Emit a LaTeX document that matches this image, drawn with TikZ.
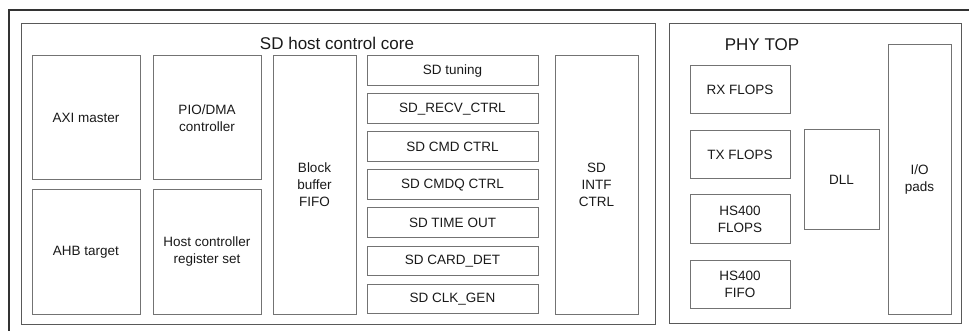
\documentclass[tikz,border=0pt]{standalone}
\usepackage{fontspec}
\setmainfont{Liberation Sans}
\begin{document}
\begin{tikzpicture}[x=1pt,y=-1pt,
  blk/.style={draw=black!55, line width=1pt, inner sep=0pt, align=center,
    font=\fontsize{13.5}{17}\selectfont, text=black!90},
  grp/.style={draw=black!65, line width=1pt, inner sep=0pt},
  ttl/.style={inner sep=0pt, font=\fontsize{17}{20}\selectfont, text=black!90},
  frame/.style={draw=black!80, line width=1.3pt}]
\useasboundingbox (0,0) rectangle (969,331);
% outer frame (cropped)
\coordinate (fr1) at (969,10);
\coordinate (fr2) at (9,10);
\coordinate (fr3) at (9,331);
\draw[frame] (fr1) -- (fr2) -- (fr3);
% SD host control core
\node[grp, minimum width=634, minimum height=300] (core) at (338,174) {};
\node[ttl] (coret) at (337,43) {SD host control core};
\node[blk, minimum width=108, minimum height=124] (axi) at (86,118) {AXI master};
\node[blk, minimum width=108, minimum height=124] (ahb) at (86,252) {AHB target};
\node[blk, minimum width=108, minimum height=124] (pio) at (207,118) {PIO/DMA\\controller};
\node[blk, minimum width=108, minimum height=124] (hcr) at (207,252) {Host controller\\register set};
\node[blk, minimum width=83, minimum height=258] (bbf) at (314.5,185) {Block\\buffer\\FIFO};
\node[blk, minimum width=171, minimum height=29.5] (tun) at (452.5,70.75) {SD tuning};
\node[blk, minimum width=171, minimum height=29.5] (recv) at (452.5,108.75) {SD\_RECV\_CTRL};
\node[blk, minimum width=171, minimum height=29.5] (cmd) at (452.5,146.75) {SD CMD CTRL};
\node[blk, minimum width=171, minimum height=29.5] (cmdq) at (452.5,184.75) {SD CMDQ CTRL};
\node[blk, minimum width=171, minimum height=29.5] (tout) at (452.5,222.75) {SD TIME OUT};
\node[blk, minimum width=171, minimum height=29.5] (card) at (452.5,260.75) {SD CARD\_DET};
\node[blk, minimum width=171, minimum height=29.5] (clk) at (452.5,298.75) {SD CLK\_GEN};
\node[blk, minimum width=83, minimum height=258] (intf) at (596.5,185) {SD\\INTF\\CTRL};
% PHY TOP
\node[grp, minimum width=292, minimum height=299] (phy) at (815,173.5) {};
\node[ttl] (phyt) at (762,45) {PHY TOP};
\node[blk, minimum width=100, minimum height=48] (rx) at (740,90) {RX FLOPS};
\node[blk, minimum width=100, minimum height=48] (tx) at (740,155) {TX FLOPS};
\node[blk, minimum width=100, minimum height=48] (hsf) at (740,219) {HS400\\FLOPS};
\node[blk, minimum width=100, minimum height=48] (hsfifo) at (740,284) {HS400\\FIFO};
\node[blk, minimum width=75, minimum height=100] (dll) at (841.5,180) {DLL};
\node[blk, minimum width=63, minimum height=269] (io) at (919.5,179.5) {I/O\\pads};
\end{tikzpicture}
\end{document}
